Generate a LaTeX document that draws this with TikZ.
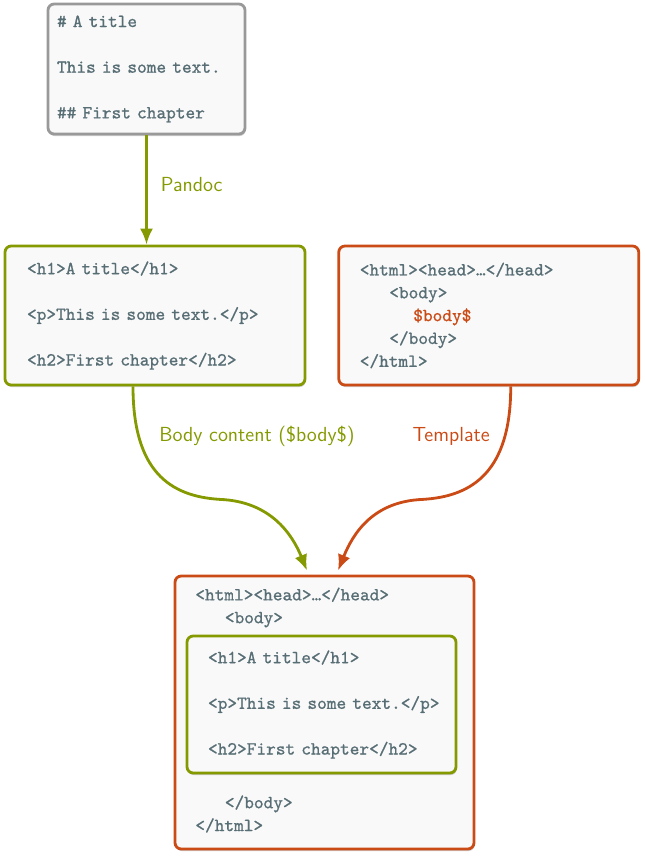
\documentclass[tikz,border=0pt]{standalone}
\usepackage{fontspec}
\usepackage{xcolor}
\usepackage{tikz}
\usetikzlibrary{arrows.meta,positioning,calc,shadows}
\newfontfamily\codett[FakeBold=0.9]{lmmono10-regular.otf}
\definecolor{codegray}{HTML}{586E75}
\definecolor{pdgreen}{HTML}{859900}
\definecolor{pdorange}{HTML}{CB4B16}
\definecolor{boxfill}{HTML}{F9F9F9}
\definecolor{boxgray}{HTML}{999999}
\newcommand{\codefont}{\codett\fontsize{10.5}{13}\selectfont}
\newcommand{\emptyrow}{\\[13pt]}
\tikzset{
  codebox/.style={draw, rounded corners=3.5pt, line width=1.6pt, fill=boxfill,
    drop shadow={shadow xshift=0.4pt, shadow yshift=-1.2pt, opacity=0.3, fill=black!60},
    align=left, text=codegray, font=\codefont, inner ysep=0pt},
  src/.style={codebox, draw=boxgray},
  html/.style={codebox, draw=pdgreen},
  tpl/.style={codebox, draw=pdorange},
  code/.style={text=codegray, font=\codefont, align=left, inner sep=0pt},
  lbl/.style={font=\sffamily\fontsize{11.6}{13}\selectfont, inner sep=0pt},
  arrow/.style={-{Latex[length=3.2mm,width=2.6mm]}, line width=1.6pt},
}

\begin{document}
\begin{tikzpicture}[x=0.02cm, y=-0.02cm]
\useasboundingbox (0,0) rectangle (645,856);
% markdown source
\node[src, text width=3.58cm, inner xsep=0.18cm, minimum height=2.6cm] (src) at (146.5,69)
  {\# A title\emptyrow This is some text.\emptyrow \#\# First chapter};
% pandoc output and template
\node[html, text width=5.12cm, inner xsep=0.44cm, minimum height=2.78cm] (body) at (155,315.5)
  {<h1>A title</h1>\emptyrow <p>This is some text.</p>\emptyrow <h2>First chapter</h2>};
\node[tpl, text width=5.16cm, inner xsep=0.42cm, minimum height=2.78cm, right=0.62cm of body] (tmpl)
  {<html><head>…</head>\\
   \hspace*{1.6em}<body>\\
   \hspace*{2.9em}\textcolor{pdorange}{\$body\$}\\
   \hspace*{1.6em}</body>\\
   </html>};
% final document
\node[tpl, minimum width=5.98cm, minimum height=5.46cm] (final) at (324.5,712.5) {};
\node[code, anchor=west] (fhead) at (195,607.5) {<html><head>…</head>\\\hspace*{1.6em}<body>};
\node[html, text width=4.54cm, inner xsep=0.42cm, minimum height=2.74cm] (inner) at (321.5,704.5)
  {<h1>A title</h1>\emptyrow \mbox{<p>This is some text.</p>}\emptyrow <h2>First chapter</h2>};
\node[code, anchor=west] (ftail) at (195,814) {\hspace*{1.6em}</body>\\</html>};

\draw[arrow, pdgreen] (src) -- (src.south |- body.north)
  node[lbl, midway, right=0.26cm, text=pdgreen, yshift=0.1cm] (pandoclbl) {Pandoc};
\draw[arrow, pdgreen] ($(body.south)+(-22,0)$) .. controls +(0,85) and +(-50,-3) .. ++(87,113)
  .. controls +(50,2) and +(-15,-37) .. ($(final.north)+(-17.5,-4)$);
\draw[arrow, pdorange] ($(tmpl.south)+(22,0)$) .. controls +(0,85) and +(50,-3) .. ++(-88,113)
  .. controls +(-50,2) and +(15,-37) .. ($(final.north)+(13.5,-4)$);
\node[lbl, text=pdgreen, anchor=west] (bodylbl) at (159,436) {Body content (\$body\$)};
\node[lbl, text=pdorange, anchor=east] (tpllbl) at (490,436) {Template};
\end{tikzpicture}
\end{document}
